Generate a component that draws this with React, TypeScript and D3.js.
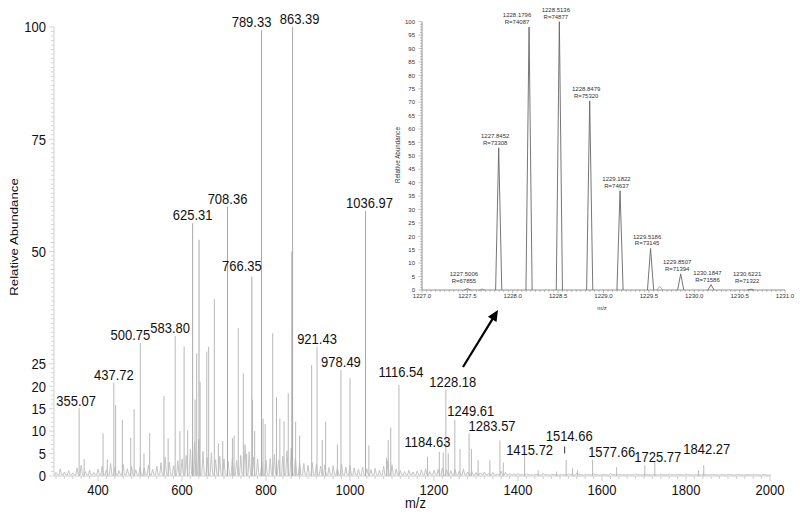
import React from 'react';
import * as d3 from 'd3';

// main spectrum, prominent peaks (m/z and relative abundance %)
const peakMz = [355.07, 367, 412, 422, 437.72, 442, 458, 478, 486, 500.75, 509.5, 523, 557, 567, 583.8, 595,
  605, 613.5, 625.31, 631, 635, 640.5, 643, 659, 663.5, 677, 686.5, 697, 708.36, 720, 724, 734, 746, 754,
  766.35, 768, 773, 789.33, 793, 798, 816, 825, 833, 843, 853, 861.5, 863.39, 870.6, 880, 908.7, 921.43,
  934, 942, 970, 978.49, 1000, 1036.97, 1045, 1087, 1091, 1097, 1116.54, 1184.63, 1212.6, 1222, 1228.18,
  1234, 1249.61, 1262, 1283.57, 1289, 1305, 1333, 1357, 1365, 1415.72, 1448, 1492, 1514.66, 1530, 1542,
  1577.66, 1635, 1702, 1725.77, 1830, 1842.27];
const peakInt = [15.1, 3.8, 9.5, 3.7, 20.8, 15.8, 12.5, 8.5, 14.9, 29.6, 5, 9.6, 17.8, 8.4, 31.2, 10,
  28.8, 10.2, 56.3, 17, 27.3, 52.6, 21, 27.7, 28.8, 39.4, 7.3, 7.8, 60, 8.4, 9, 33, 22.9, 5,
  44.4, 17, 10, 99.3, 12.8, 11.6, 31.8, 17.6, 12.8, 12.2, 18.4, 50, 100, 12.1, 9, 24.7, 28.8,
  8, 12.1, 7, 23.6, 21.8, 59, 6.8, 4, 8, 10.8, 20.3, 4.3, 5.4, 5.2, 19.2,
  5, 12.5, 6, 9.5, 6, 3.5, 3.5, 7.9, 3, 5, 1.3, 1, 3.6, 1.7, 1.3,
  3.6, 2, 2.4, 3.2, 1.3, 2.4];

// baseline grass, read roughly every 10 m/z (every 20 above 1400)
const noiseMz = [300, 310, 320, 330, 340, 350, 360, 370, 380, 390, 400,
  410, 420, 430, 440, 450, 460, 470, 480, 490, 500,
  510, 520, 530, 540, 550, 560, 570, 580, 590, 600,
  610, 620, 630, 640, 650, 660, 670, 680, 690, 700,
  710, 720, 730, 740, 750, 760, 770, 780, 790, 800,
  810, 820, 830, 840, 850, 860, 870, 880, 890, 900,
  910, 920, 930, 940, 950, 960, 970, 980, 990, 1000,
  1010, 1020, 1030, 1040, 1050, 1060, 1070, 1080, 1090, 1100,
  1110, 1120, 1130, 1140, 1150, 1160, 1170, 1180, 1190, 1200,
  1210, 1220, 1230, 1240, 1250, 1260, 1270, 1280, 1290, 1300,
  1310, 1320, 1330, 1340, 1350, 1360, 1370, 1380, 1390, 1400,
  1420, 1440, 1460, 1480, 1500, 1520, 1540, 1560, 1580, 1600, 1620, 1640, 1660, 1680, 1700,
  1720, 1740, 1760, 1780, 1800, 1820, 1840, 1860, 1880, 1900, 1920, 1940, 1960, 1980, 2000];
const noiseInt = [0.8, 1.6, 0.9, 1.2, 0.7, 1.8, 2.4, 1.0, 1.3, 0.8, 1.5,
  2.2, 1.4, 2.8, 1.9, 1.2, 2.6, 1.6, 2.1, 1.4, 2.0,
  1.8, 2.4, 1.5, 2.2, 3.0, 4.2, 3.1, 2.3, 3.4, 3.8,
  4.6, 6.0, 7.5, 8.2, 5.5, 4.1, 5.2, 3.6, 4.4, 3.8,
  3.2, 4.0, 3.5, 4.6, 7.0, 5.4, 4.2, 3.8, 3.0, 3.5,
  3.9, 4.8, 3.6, 4.4, 5.6, 6.2, 4.0, 3.1, 2.8, 2.4,
  3.0, 2.6, 2.2, 2.5, 1.9, 2.3, 1.8, 2.6, 2.0, 2.4,
  1.8, 1.5, 2.0, 1.6, 1.4, 1.7, 1.3, 2.2, 3.4, 2.5,
  1.6, 1.2, 1.0, 1.3, 0.9, 1.1, 1.4, 1.6, 1.0, 1.3,
  1.5, 1.8, 1.4, 1.2, 1.5, 1.1, 1.6, 0.9, 1.0, 0.8,
  0.7, 0.9, 0.6, 0.8, 0.5, 1.1, 0.8, 0.6, 0.5, 0.6,
  0.5, 0.4, 0.6, 0.4, 0.3, 0.5, 0.7, 0.4, 0.5, 0.3, 0.6, 0.4, 0.3, 0.5, 0.4,
  0.3, 0.4, 0.5, 0.3, 0.4, 0.3, 0.4, 0.3, 0.2, 0.4, 0.3, 0.2, 0.3, 0.2, 0.2];

const labelledMz = [355.07, 437.72, 500.75, 583.8, 625.31, 708.36, 766.35, 789.33, 863.39, 921.43, 978.49,
  1036.97, 1116.54, 1184.63, 1228.18, 1249.61, 1283.57, 1415.72, 1514.66, 1577.66, 1725.77, 1842.27];

const yTicks = [0, 5, 10, 15, 20, 25, 50, 75, 100];
const xTicks = [400, 600, 800, 1000, 1200, 1400, 1600, 1800, 2000];

// zoomed isotope cluster of 1228.18
const insetMz = [1227.5006, 1227.8452, 1228.1796, 1228.5136, 1228.8479, 1229.1822, 1229.5186, 1229.8507, 1230.1847, 1230.6221];
const insetInt = [0.5, 53, 98, 100, 70.5, 37, 15.5, 6, 2, 0.3];
const insetRes = [67855, 73308, 74087, 74877, 75320, 74637, 73145, 71394, 71586, 71322];
const insetMinorMz = [1227.66, 1229.62];
const insetMinorInt = [0.4, 1.3];
const insetXTicks = [1227.0, 1227.5, 1228.0, 1228.5, 1229.0, 1229.5, 1230.0, 1230.5, 1231.0];

// label nudges (px) so text does not collide
const labelNudge: Record<string, [number, number]> = {
  '355.07': [-3, 1], '500.75': [-10, 0], '583.80': [-5, 0], '766.35': [-10, -3], '789.33': [-10, 0],
  '863.39': [7, 0], '1036.97': [4, 0], '1116.54': [2, -5], '1184.63': [0, -7], '1228.18': [7, 0],
  '1249.61': [16, -1], '1283.57': [23, 1], '1415.72': [5, 4], '1514.66': [3, -16], '1577.66': [19, 0],
  '1725.77': [3, 3], '1842.27': [3, -8],
};
const insetNudge: Record<string, number> = { '1228.1796': -12 };

const FONT = '"Liberation Sans", Arial, sans-serif';

function T({ x, y, size = 13, anchor = 'middle', rot = false, sy = 1.15, fill = '#111', children }: any) {
  return (
    <text transform={`translate(${x},${y}) scale(1,${sy})${rot ? ' rotate(-90)' : ''}`}
      textAnchor={anchor} fontSize={size} fontFamily={FONT} fill={fill}>{children}</text>
  );
}

export default function App() {
  const x = d3.scaleLinear().domain([300, 2000]).range([56, 770]);
  const y = d3.scaleLinear().domain([0, 100]).range([476, 27]);
  const ix = d3.scaleLinear().domain([1227, 1231]).range([422, 785]);
  const iy = d3.scaleLinear().domain([0, 100]).range([290, 21.7]);

  const grass = d3.line<[number, number]>().x(d => x(d[0])).y(d => y(d[1]));
  const grassPts: [number, number][] = [];
  noiseMz.forEach((m, i) => {
    grassPts.push([m - 3, 0.2], [m, noiseInt[i]], [m + 3, 0.3]);
  });

  const yMinor = d3.range(0, 101, 1);
  const xMinor = d3.range(300, 2001, 20);
  const iyMinor = d3.range(0, 101, 1);
  const ixMinor = d3.range(1227, 1231.001, 0.05);

  const peakPath = (m: number, h: number) =>
    `M${ix(m - 0.034)},${iy(0)}L${ix(m)},${iy(h)}L${ix(m + 0.034)},${iy(0)}`;

  const ax = [498, 310], at = [463, 367];
  const ang = Math.atan2(ax[1] - at[1], ax[0] - at[0]);
  const head = [
    [ax[0], ax[1]],
    [ax[0] - 11 * Math.cos(ang) + 5 * Math.sin(ang), ax[1] - 11 * Math.sin(ang) - 5 * Math.cos(ang)],
    [ax[0] - 11 * Math.cos(ang) - 5 * Math.sin(ang), ax[1] - 11 * Math.sin(ang) + 5 * Math.cos(ang)],
  ];

  return (
    <svg width={800} height={516} style={{ position: 'absolute', left: 0, top: 0, background: '#fff' }}>
      {/* main axes */}
      <line x1={54} x2={54} y1={y(100)} y2={y(0)} stroke="#cfcfcf" />
      {yMinor.map(v => (
        <line key={'ym' + v} x1={yTicks.includes(v) ? 49 : 51} x2={54} y1={y(v)} y2={y(v)} stroke="#d6d6d6" />
      ))}
      {yTicks.map(v => (
        <T key={'yt' + v} x={46} y={y(v) + 5.3} anchor="end" size={13}>{v}</T>
      ))}
      <T x={18} y={237} rot size={11.5}>Relative Abundance</T>

      <line x1={54} x2={770} y1={y(0)} y2={y(0)} stroke="#cfcfcf" />
      {xMinor.map(v => (
        <line key={'xm' + v} x1={x(v)} x2={x(v)} y1={y(0)} y2={y(0) + (v % 200 === 0 ? 5 : 3)} stroke="#cfcfcf" />
      ))}
      {xTicks.map(v => (
        <T key={'xt' + v} x={x(v)} y={494.5} size={13}>{v}</T>
      ))}
      <T x={405} y={508} anchor="start" size={13}>m/z</T>

      {/* spectrum */}
      <path d={grass(grassPts) || ''} fill="none" stroke="#c4c4c4" strokeWidth={1} />
      {peakMz.map((m, i) => (
        <line key={'p' + i} x1={x(m)} x2={x(m)} y1={y(0)} y2={y(peakInt[i])}
          stroke={peakInt[i] > 40 ? '#a8a8a8' : '#b8b8b8'} strokeWidth={1} />
      ))}
      {labelledMz.map(m => {
        const h = peakInt[peakMz.indexOf(m)];
        const txt = m.toFixed(2);
        const [dx, dy] = labelNudge[txt] || [0, 0];
        return <T key={'l' + txt} x={x(m) + dx} y={y(h) - 3 + dy} size={13}>{txt}</T>;
      })}
      <line x1={x(1514.66) - 1.5} x2={x(1514.66) - 1.5} y1={446.5} y2={453.5} stroke="#333" />

      {/* arrow */}
      <line x1={at[0]} y1={at[1]} x2={ax[0] - 8 * Math.cos(ang)} y2={ax[1] - 8 * Math.sin(ang)} stroke="#000" strokeWidth={2.2} />
      <polygon points={head.map(p => p.join(',')).join(' ')} fill="#000" />

      {/* inset */}
      <line x1={ix(1227)} x2={ix(1227)} y1={iy(100)} y2={iy(0)} stroke="#777" strokeWidth={0.8} />
      {iyMinor.map(v => (
        <line key={'iym' + v} x1={ix(1227) - (v % 5 === 0 ? 3.5 : 2)} x2={ix(1227)} y1={iy(v)} y2={iy(v)} stroke="#888" strokeWidth={0.5} />
      ))}
      {d3.range(0, 101, 5).map(v => (
        <T key={'iyt' + v} x={415} y={iy(v) + 2.2} anchor="end" size={6} sy={1} fill="#333">{v}</T>
      ))}
      <T x={400} y={155} rot size={6.3} sy={1} fill="#333">Relative Abundance</T>
      <line x1={ix(1227)} x2={ix(1231)} y1={iy(0)} y2={iy(0)} stroke="#777" strokeWidth={0.8} />
      {ixMinor.map((v, i) => (
        <line key={'ixm' + i} x1={ix(v)} x2={ix(v)} y1={iy(0)} y2={iy(0) + (i % 10 === 0 ? 3 : 1.8)} stroke="#777" strokeWidth={0.5} />
      ))}
      {insetXTicks.map(v => (
        <T key={'ixt' + v} x={ix(v)} y={298} size={6} sy={1} fill="#333">{v.toFixed(1)}</T>
      ))}
      <T x={602} y={310} size={6} sy={1} fill="#333">m/z</T>
      {insetMz.map((m, i) => (
        <path key={'ip' + i} d={peakPath(m, insetInt[i])} fill="none" stroke="#666" strokeWidth={0.9} />
      ))}
      {insetMinorMz.map((m, i) => (
        <path key={'ipm' + i} d={peakPath(m, insetMinorInt[i])} fill="none" stroke="#888" strokeWidth={0.7} />
      ))}
      {insetMz.map((m, i) => {
        const lbl = m.toFixed(4);
        const cx = ix(m) + (insetNudge[lbl] ?? -3.5);
        const top = iy(Math.max(insetInt[i], 1.5));
        return (
          <g key={'il' + i}>
            <T x={cx} y={top - 9.7} size={6} sy={1} fill="#333">{lbl}</T>
            <T x={cx} y={top - 3} size={6} sy={1} fill="#333">{'R=' + insetRes[i]}</T>
          </g>
        );
      })}
    </svg>
  );
}
